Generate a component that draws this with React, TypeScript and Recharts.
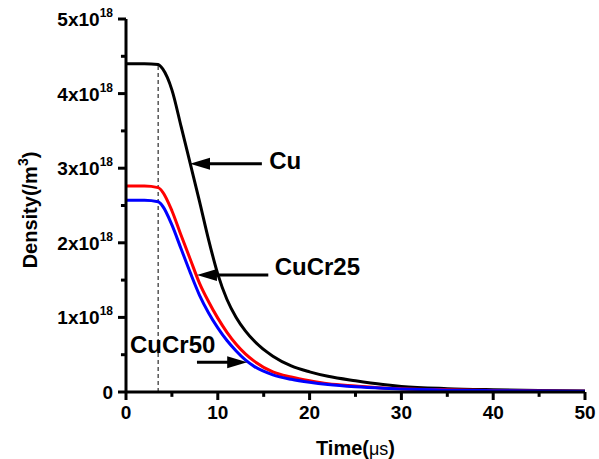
import React from 'react';
import { LineChart, Line, XAxis, YAxis, ReferenceLine, ReferenceDot } from 'recharts';

// time in µs, density in units of 1e18 /m^3
const time = [0, 2, 3.5, 4, 5, 6, 7, 8, 9, 10, 11, 12, 13, 14, 16, 18, 20, 22, 25, 28, 30, 35, 40, 45, 50];
const cu = [4.40, 4.40, 4.39, 4.33, 4.05, 3.56, 3.06, 2.56, 2.04, 1.58, 1.24, 1.00, 0.82, 0.68, 0.48, 0.35, 0.27, 0.21, 0.15, 0.10, 0.075, 0.045, 0.03, 0.02, 0.015];
const cuCr25 = [2.76, 2.76, 2.74, 2.68, 2.43, 2.10, 1.78, 1.46, 1.21, 0.99, 0.80, 0.64, 0.51, 0.41, 0.27, 0.20, 0.15, 0.11, 0.08, 0.055, 0.045, 0.03, 0.02, 0.015, 0.01];
const cuCr50 = [2.57, 2.57, 2.55, 2.49, 2.24, 1.92, 1.60, 1.30, 1.06, 0.86, 0.69, 0.55, 0.43, 0.34, 0.23, 0.17, 0.13, 0.10, 0.07, 0.05, 0.04, 0.025, 0.018, 0.013, 0.01];

const xTicks = [0, 10, 20, 30, 40, 50];
const xMinorTicks = [5, 15, 25, 35, 45];
const yTicks = [0, 1, 2, 3, 4, 5];
const yMinorTicks = [0.5, 1.5, 2.5, 3.5, 4.5];
const seriesNames = ['Cu', 'CuCr25', 'CuCr50'];

const data = time.map((t, i) => ({ t, cu: cu[i], cuCr25: cuCr25[i], cuCr50: cuCr50[i] }));

const FONT = '"Liberation Sans", Arial, sans-serif';
const W = 599;
const H = 459;
const MARGIN = { top: 19, right: 14, bottom: 0, left: 0 };
const Y_AXIS_W = 126;
const X_AXIS_H = 67;

// minor tick length in data units (about 5px at this size)
const MINOR_X = 0.55;
const MINOR_Y = 0.065;

const YTick = (props: any) => {
  const { x, y, payload } = props;
  return (
    <text x={x} y={y} dy={7} textAnchor="end" fontFamily={FONT} fontSize={19} fontWeight="bold" fill="#000">
      {payload.value === 0 ? (
        '0'
      ) : (
        <>
          {payload.value}x10
          <tspan dy={-9} fontSize={12}>18</tspan>
        </>
      )}
    </text>
  );
};

const XTick = (props: any) => {
  const { x, y, payload } = props;
  return (
    <text x={x} y={y} dy={14} textAnchor="middle" fontFamily={FONT} fontSize={19} fontWeight="bold" fill="#000">
      {payload.value}
    </text>
  );
};

const XTitle = (props: any) => {
  const { x, y, width, height } = props.viewBox;
  return (
    <text x={x + width / 2} y={y + height - 4} textAnchor="middle" fontFamily={FONT} fontSize={20} fontWeight="bold" fill="#000">
      Time(<tspan fontWeight="normal" fontSize={18}>μs</tspan>)
    </text>
  );
};

const YTitle = () => {
  const cx = 37;
  const cy = 210;
  return (
    <text x={cx} y={cy} transform={`rotate(-90, ${cx}, ${cy})`} textAnchor="middle" fontFamily={FONT} fontSize={20} fontWeight="bold" fill="#000">
      Density(/m<tspan dy={-9} fontSize={14}>3</tspan>
      <tspan dy={9}>)</tspan>
    </text>
  );
};

// arrow head, tip at the dot position; dir -1 points left, 1 points right
const headShape = (dir: number) => (p: any) => (
  <polygon
    points={`${p.cx},${p.cy} ${p.cx - dir * 20},${p.cy - 6} ${p.cx - dir * 20},${p.cy + 6}`}
    fill="#000"
  />
);

const labelShape = (text: string) => (p: any) => (
  <text x={p.cx} y={p.cy} dominantBaseline="central" fontFamily={FONT} fontSize={24} fontWeight="bold" fill="#000">
    {text}
  </text>
);

export default function App() {
  return (
    <div style={{ width: W, height: H, background: '#fff' }}>
      <style>{'body{margin:0}'}</style>
      <LineChart width={W} height={H} data={data} margin={MARGIN}>
        <XAxis
          dataKey="t"
          type="number"
          domain={[0, 50]}
          ticks={xTicks}
          interval={0}
          height={X_AXIS_H}
          tickSize={8}
          tickMargin={5}
          tickLine={{ stroke: '#000', strokeWidth: 3 }}
          tick={<XTick />}
          axisLine={{ stroke: '#000', strokeWidth: 3 }}
          label={<XTitle />}
        />
        <YAxis
          type="number"
          domain={[0, 5]}
          ticks={yTicks}
          interval={0}
          width={Y_AXIS_W}
          tickSize={8}
          tickMargin={5}
          tickLine={{ stroke: '#000', strokeWidth: 3 }}
          tick={<YTick />}
          axisLine={{ stroke: '#000', strokeWidth: 3 }}
          label={<YTitle />}
        />

        {xMinorTicks.map((v) => (
          <ReferenceLine key={`xm${v}`} segment={[{ x: v, y: 0 }, { x: v, y: -MINOR_Y }]} stroke="#000" strokeWidth={3} ifOverflow="visible" />
        ))}
        {yMinorTicks.map((v) => (
          <ReferenceLine key={`ym${v}`} segment={[{ x: 0, y: v }, { x: -MINOR_X, y: v }]} stroke="#000" strokeWidth={3} ifOverflow="visible" />
        ))}

        <ReferenceLine
          segment={[{ x: 3.5, y: 0 }, { x: 3.5, y: 4.4 }]}
          stroke="#000"
          strokeWidth={1}
          strokeDasharray="4 3"
        />

        <Line type="monotone" dataKey="cu" name={seriesNames[0]} stroke="#000" strokeWidth={3} dot={false} isAnimationActive={false} />
        <Line type="monotone" dataKey="cuCr25" name={seriesNames[1]} stroke="#ff0000" strokeWidth={3} dot={false} isAnimationActive={false} />
        <Line type="monotone" dataKey="cuCr50" name={seriesNames[2]} stroke="#0000ff" strokeWidth={3} dot={false} isAnimationActive={false} />

        {/* Cu */}
        <ReferenceLine segment={[{ x: 9.0, y: 3.06 }, { x: 14.8, y: 3.06 }]} stroke="#000" strokeWidth={3} />
        <ReferenceDot x={6.97} y={3.06} shape={headShape(-1)} />
        <ReferenceDot x={15.6} y={3.1} shape={labelShape(seriesNames[0])} />

        {/* CuCr25 */}
        <ReferenceLine segment={[{ x: 9.8, y: 1.57 }, { x: 15.5, y: 1.57 }]} stroke="#000" strokeWidth={3} />
        <ReferenceDot x={7.73} y={1.57} shape={headShape(-1)} />
        <ReferenceDot x={16.2} y={1.68} shape={labelShape(seriesNames[1])} />

        {/* CuCr50 */}
        <ReferenceLine segment={[{ x: 7.73, y: 0.4 }, { x: 11.2, y: 0.4 }]} stroke="#000" strokeWidth={3} />
        <ReferenceDot x={13.2} y={0.4} shape={headShape(1)} />
        <ReferenceDot x={0.44} y={0.64} shape={labelShape(seriesNames[2])} />
      </LineChart>
    </div>
  );
}
